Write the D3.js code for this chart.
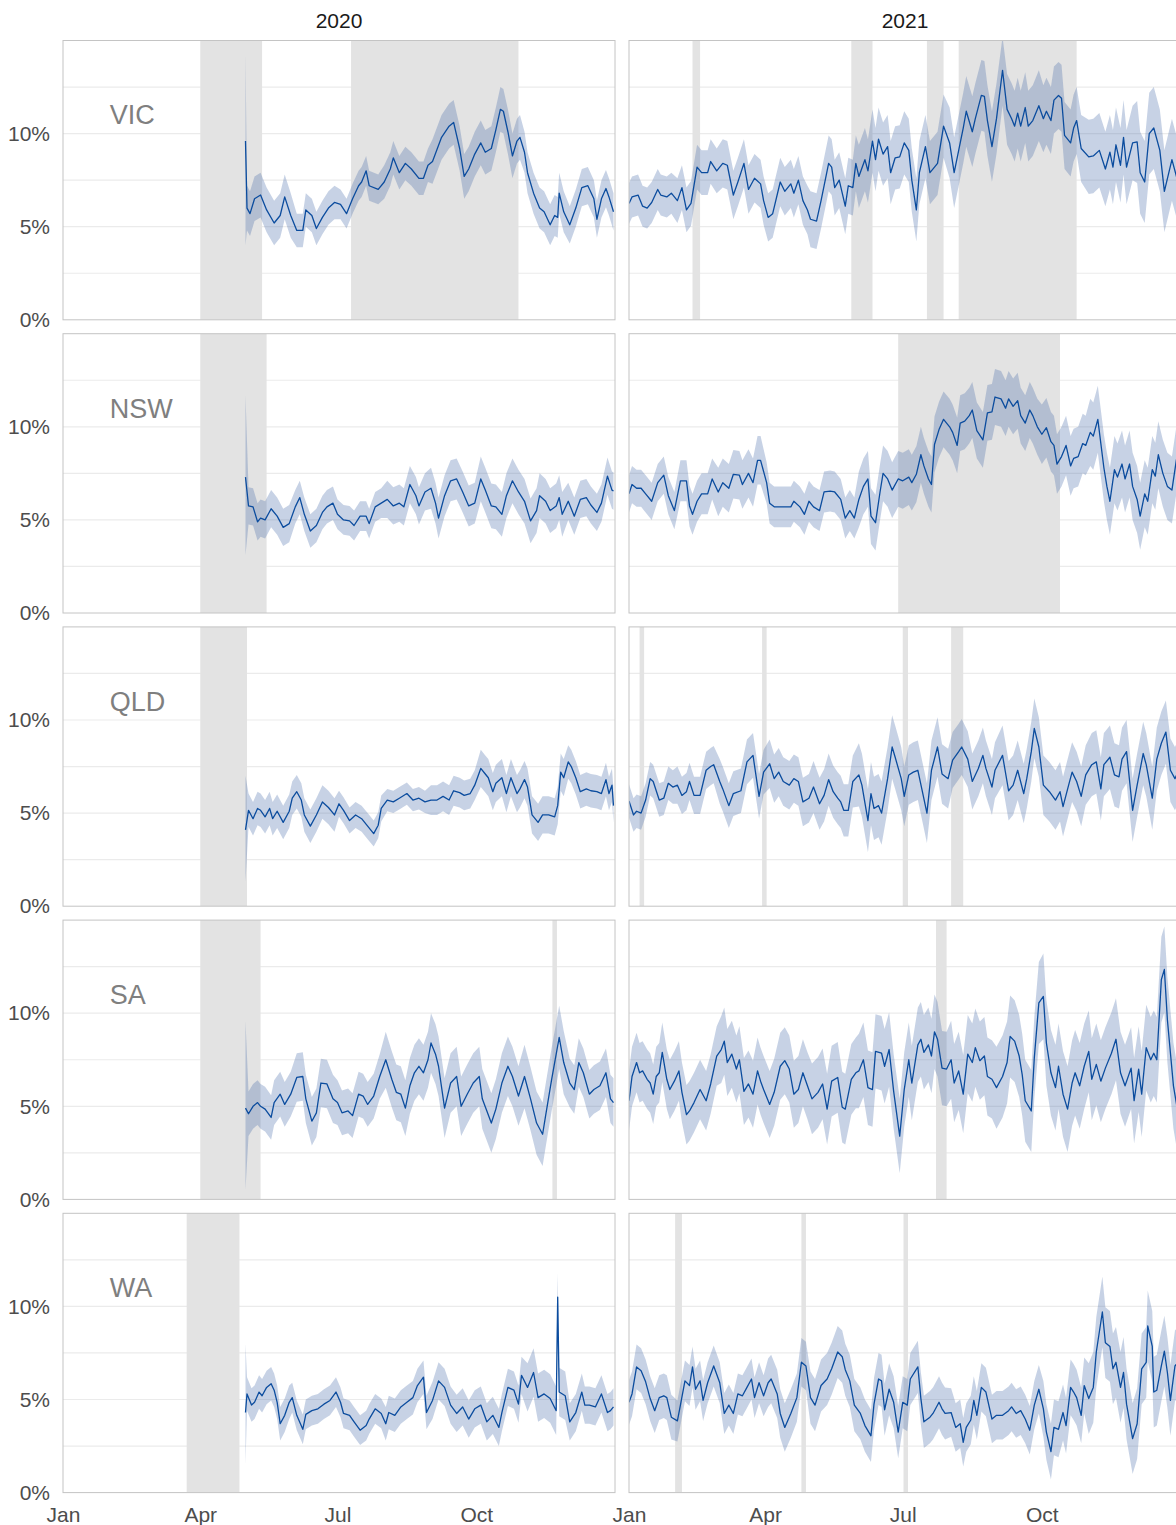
<!DOCTYPE html>
<html>
<head>
<meta charset="utf-8">
<script src="https://cdn.jsdelivr.net/npm/d3@7"></script>
<style>
  body { margin: 0; background: #fff; }
  svg { display: block; font-family: "Liberation Sans", Arial, sans-serif; }
</style>
</head>
<body>
<svg id="chart" width="1176" height="1525"></svg>
<script>
// facets
const states = ["VIC", "NSW", "QLD", "SA", "WA"];
const years = [2020, 2021];
const yLabels = [0, 5, 10];
const gridVals = [2.5, 5, 7.5, 10, 12.5];
const monthTicks = [0, 3, 6, 9]; // Jan Apr Jul Oct

// series: [day of year (0 = 1 Jan), share in %]
const vic2020 = [[121,9.6],[122,6.0],[124,5.7],[127,6.5],[131,6.7],[135,5.9],[140,5.2],[144,5.6],[147,6.6],[151,5.6],[155,4.8],[159,4.8],[161,5.9],[165,5.6],[168,4.9],[172,5.5],[176,6.0],[180,6.3],[184,6.2],[188,5.7],[192,6.5],[196,7.2],[198,7.4],[201,8.0],[203,7.2],[209,7.0],[213,7.4],[217,8.1],[219,8.7],[223,7.9],[227,8.4],[231,8.1],[236,7.6],[239,7.6],[242,8.3],[245,8.5],[251,9.8],[256,10.4],[259,10.6],[263,9.2],[266,7.7],[269,8.1],[273,8.9],[277,9.5],[280,9.0],[284,9.2],[287,10.2],[290,11.3],[292,11.2],[295,10.1],[298,8.8],[301,9.6],[303,9.8],[306,9.0],[308,7.9],[312,6.8],[316,6.0],[319,5.8],[323,5.1],[326,5.6],[328,5.5],[329,6.8],[332,5.8],[336,5.1],[340,6.0],[344,7.1],[348,7.2],[352,6.5],[354,5.4],[357,6.5],[360,7.05],[362,6.6],[365,5.8]];
const vic2021 = [[0,6.25],[2,6.6],[6,6.7],[9,6.1],[12,6.0],[15,6.3],[19,7.0],[21,6.7],[25,6.6],[28,6.8],[32,6.4],[35,7.1],[38,5.9],[41,6.25],[45,8.2],[48,7.9],[52,7.9],[54,8.5],[58,8.0],[62,8.4],[65,8.3],[69,6.7],[72,7.4],[76,8.4],[79,7.0],[83,7.6],[87,7.3],[89,6.4],[92,5.5],[95,5.7],[100,7.4],[103,6.9],[107,7.3],[109,6.8],[112,7.5],[115,6.4],[118,5.9],[120,5.4],[124,5.3],[127,6.4],[132,8.4],[134,8.2],[136,7.1],[139,7.5],[143,6.1],[145,7.2],[148,7.1],[150,8.4],[152,7.7],[156,8.6],[158,8.0],[161,9.6],[163,8.6],[165,9.7],[168,8.9],[171,9.3],[173,7.9],[176,8.7],[179,8.75],[182,9.5],[185,9.1],[187,7.5],[190,5.9],[192,7.9],[196,9.3],[199,7.9],[202,8.2],[204,8.4],[208,10.4],[212,9.5],[215,7.9],[218,9.1],[221,10.3],[223,11.2],[227,10.1],[229,10.8],[233,12.05],[235,12.0],[237,10.7],[240,9.3],[243,10.8],[247,13.4],[250,11.3],[253,10.8],[255,10.4],[257,11.1],[259,10.4],[262,11.4],[264,10.4],[267,10.7],[271,11.5],[274,10.8],[276,11.2],[279,10.7],[281,11.8],[284,12.05],[286,11.9],[288,9.9],[292,9.5],[294,10.3],[296,10.7],[299,9.2],[304,8.75],[307,8.8],[311,9.1],[315,8.1],[318,9.0],[320,8.2],[322,9.4],[325,8.3],[327,9.8],[329,8.2],[333,9.5],[336,9.55],[338,7.9],[341,7.4],[344,10.0],[347,10.3],[351,9.1],[354,6.9],[359,8.6],[363,7.4]];
const nsw2020 = [[121,7.3],[123,5.75],[126,5.7],[129,4.9],[131,5.1],[134,5.0],[138,5.6],[142,5.2],[146,4.6],[150,4.8],[154,5.7],[157,6.2],[160,5.3],[164,4.4],[168,4.7],[172,5.4],[175,5.7],[179,5.9],[182,5.3],[186,5.0],[190,4.95],[193,4.7],[197,5.2],[201,5.2],[203,4.8],[207,5.7],[211,5.9],[215,6.1],[219,5.75],[223,5.9],[226,5.7],[230,6.9],[234,6.3],[236,5.75],[240,6.5],[244,6.7],[247,5.9],[249,5.1],[253,6.3],[257,7.1],[261,7.2],[265,6.5],[269,5.75],[273,5.9],[277,7.2],[280,6.6],[284,5.75],[287,5.7],[291,5.3],[294,6.3],[298,7.1],[302,6.5],[306,6.0],[310,4.95],[314,5.5],[316,6.3],[320,6.0],[323,5.5],[327,5.75],[329,6.2],[331,5.3],[335,6.0],[339,5.2],[343,6.1],[347,6.2],[350,5.8],[354,5.4],[357,5.9],[361,7.35],[364,6.6],[365,6.55]];
const nsw2021 = [[0,6.4],[2,6.9],[5,6.7],[8,6.7],[11,6.4],[15,6.0],[19,7.0],[23,7.4],[26,6.3],[30,5.5],[34,7.1],[38,7.1],[40,5.75],[42,5.3],[45,6.0],[48,6.4],[52,6.4],[55,7.2],[59,6.5],[62,7.0],[66,6.7],[69,7.45],[73,7.4],[75,6.9],[79,7.5],[82,7.0],[85,8.2],[87,8.2],[91,7.0],[93,5.9],[96,5.7],[100,5.7],[103,5.7],[107,5.7],[109,6.0],[113,5.7],[116,5.3],[119,6.0],[122,5.7],[126,5.5],[129,6.5],[133,6.55],[136,6.5],[140,6.1],[143,5.1],[146,5.5],[149,5.1],[152,6.1],[155,6.8],[158,7.2],[160,5.2],[163,4.85],[166,6.5],[168,7.5],[171,7.2],[174,6.6],[178,7.2],[181,7.1],[185,7.3],[187,7.0],[190,7.45],[193,8.5],[195,7.9],[198,7.2],[200,6.9],[202,9.05],[205,9.85],[208,10.4],[212,10.0],[214,9.7],[217,9.0],[219,10.2],[222,10.3],[225,10.6],[227,10.9],[230,9.8],[234,9.3],[237,10.75],[240,10.8],[242,11.6],[246,11.5],[249,11.0],[251,11.5],[254,11.1],[257,11.4],[259,10.6],[262,10.2],[265,10.9],[267,10.6],[270,10.0],[273,9.6],[276,9.95],[279,9.2],[281,9.0],[283,8.0],[286,8.4],[289,9.0],[292,7.9],[294,8.3],[297,8.4],[300,9.1],[302,9.0],[305,9.7],[307,9.5],[310,10.4],[314,7.8],[316,6.8],[318,6.0],[321,7.7],[323,7.3],[326,8.0],[328,7.2],[331,8.0],[333,6.8],[336,6.1],[338,5.2],[341,6.4],[343,6.0],[346,7.7],[348,7.35],[350,8.5],[353,7.5],[356,6.8],[359,6.6],[362,8.25]];
const qld2020 = [[121,4.1],[123,5.15],[126,4.7],[129,5.25],[131,5.15],[134,4.8],[137,5.25],[139,4.7],[142,5.1],[146,4.5],[150,5.1],[152,5.8],[155,6.15],[158,5.7],[160,4.9],[164,4.3],[168,4.9],[172,5.6],[176,5.3],[180,4.9],[183,5.5],[186,5.15],[190,4.6],[194,4.9],[198,4.7],[202,4.3],[206,3.9],[209,4.35],[211,5.25],[215,5.7],[219,5.6],[223,5.8],[228,6.05],[232,5.7],[236,5.8],[240,5.6],[244,5.7],[248,5.7],[252,5.9],[256,5.7],[259,6.2],[263,6.1],[266,5.95],[270,6.05],[273,6.5],[277,7.4],[280,7.1],[282,6.9],[285,6.15],[287,6.6],[291,6.9],[294,6.05],[297,6.9],[301,6.05],[303,6.3],[306,6.8],[308,6.4],[311,4.9],[315,4.5],[318,4.9],[322,4.9],[326,4.8],[328,5.4],[330,7.2],[332,6.9],[335,7.75],[337,7.5],[340,6.9],[343,6.15],[347,6.3],[350,6.2],[354,6.15],[357,6.05],[360,6.8],[362,6.05],[364,6.5],[365,5.4]];
const qld2021 = [[0,5.65],[3,4.9],[5,5.1],[8,5.0],[11,5.7],[14,6.85],[16,6.7],[20,5.7],[23,5.8],[26,6.6],[29,6.4],[32,6.5],[35,5.95],[38,6.15],[40,6.7],[43,5.95],[47,5.95],[51,7.3],[54,7.5],[56,7.6],[60,6.7],[62,6.3],[66,5.4],[69,6.05],[74,6.2],[78,7.75],[82,8.1],[86,5.9],[89,7.2],[93,7.65],[96,6.85],[99,7.2],[102,6.7],[106,6.5],[109,6.85],[112,6.7],[115,5.6],[119,5.8],[122,6.4],[126,5.5],[129,5.95],[132,6.8],[135,6.15],[138,5.8],[140,5.6],[142,5.15],[145,5.15],[148,6.7],[152,7.05],[154,6.5],[158,4.6],[160,6.05],[162,5.25],[165,5.4],[167,5.0],[171,6.85],[174,8.55],[176,8.0],[180,6.85],[182,5.9],[185,7.05],[188,7.2],[191,7.3],[194,6.15],[197,5.0],[200,7.3],[204,8.55],[207,7.1],[211,6.85],[214,7.85],[218,8.3],[220,8.55],[224,7.9],[227,6.7],[231,7.4],[234,8.1],[236,7.4],[240,6.4],[242,7.3],[247,8.1],[251,6.2],[254,6.5],[257,7.3],[261,6.05],[263,6.85],[266,8.3],[268,9.55],[271,8.55],[274,6.5],[278,6.15],[282,5.7],[285,6.15],[287,5.35],[291,6.6],[293,7.2],[296,6.7],[299,5.9],[302,7.05],[306,7.6],[309,7.75],[312,6.3],[314,7.6],[318,8.0],[321,7.05],[324,6.95],[326,7.9],[329,8.3],[333,5.15],[336,6.5],[340,8.2],[342,7.6],[346,5.8],[349,7.9],[352,8.75],[355,9.35],[358,7.3],[361,6.85],[363,7.2]];
const sa2020 = [[121,4.9],[123,4.6],[126,5.0],[129,5.2],[131,5.0],[134,4.85],[138,4.4],[140,5.2],[144,5.65],[147,5.1],[151,5.65],[155,6.55],[159,6.6],[161,5.4],[165,4.2],[168,4.65],[171,6.25],[175,6.2],[179,5.4],[182,5.2],[185,4.65],[189,4.75],[192,4.5],[196,5.65],[199,5.55],[202,5.1],[206,5.55],[210,6.6],[214,7.5],[218,6.45],[221,5.75],[224,5.65],[227,4.9],[230,6.1],[233,6.8],[236,7.15],[239,6.8],[242,7.5],[244,8.4],[247,7.8],[249,7.15],[253,4.9],[257,6.25],[261,6.6],[264,5.0],[268,5.65],[272,6.25],[276,6.6],[278,5.4],[284,4.1],[287,4.85],[291,6.25],[295,7.15],[298,6.6],[302,5.55],[306,6.6],[310,5.4],[314,4.1],[318,3.5],[320,4.5],[324,6.45],[329,8.7],[332,7.35],[336,6.25],[339,5.9],[342,7.35],[345,6.8],[349,5.65],[352,5.9],[356,6.1],[360,6.8],[363,5.4],[365,5.2]];
const sa2021 = [[0,5.3],[2,6.6],[5,7.35],[7,6.8],[9,6.9],[12,6.45],[14,6.25],[16,5.65],[18,6.6],[20,6.8],[22,7.9],[25,6.45],[27,5.9],[30,6.35],[33,6.9],[35,5.75],[38,4.55],[40,4.75],[43,5.2],[47,5.9],[51,5.3],[54,6.2],[58,7.7],[61,8.05],[63,8.5],[65,7.35],[68,7.8],[71,7.0],[73,7.5],[76,5.8],[79,6.2],[82,5.65],[85,6.9],[87,6.35],[89,5.9],[93,5.1],[96,5.75],[100,7.15],[103,7.45],[106,7.0],[109,5.65],[112,5.9],[115,6.8],[118,6.1],[121,5.4],[125,5.75],[128,6.2],[131,4.85],[134,6.35],[138,6.55],[141,4.95],[143,4.85],[147,6.45],[150,6.8],[152,6.9],[155,7.5],[158,6.0],[161,5.9],[163,7.95],[167,7.85],[169,7.15],[172,8.05],[175,5.8],[179,3.4],[182,5.9],[185,7.5],[187,6.25],[191,8.3],[193,8.6],[195,7.9],[198,8.3],[200,7.7],[202,9.0],[204,8.6],[207,7.05],[210,7.0],[213,7.5],[215,6.25],[218,6.9],[221,5.65],[224,7.8],[227,7.35],[229,8.15],[232,7.45],[235,7.7],[237,6.6],[240,6.45],[243,6.0],[247,6.6],[250,7.35],[252,8.75],[255,8.5],[258,7.7],[260,6.7],[262,5.3],[266,4.75],[268,7.6],[271,10.55],[274,10.9],[276,8.4],[279,6.8],[282,6.0],[284,7.15],[287,5.65],[290,4.85],[293,6.25],[295,6.8],[298,6.1],[301,7.15],[304,7.95],[306,6.45],[309,7.25],[312,6.35],[315,7.05],[319,7.85],[322,8.6],[325,6.8],[328,6.1],[332,7.05],[334,5.3],[337,7.0],[339,5.65],[342,8.15],[345,7.5],[347,7.85],[349,7.5],[352,11.8],[354,12.35],[356,9.65],[360,6.1],[363,4.65]];
const wa2020 = [[121,4.3],[122,5.3],[125,4.7],[127,4.85],[130,5.4],[132,5.2],[135,5.65],[138,5.85],[140,5.5],[142,4.85],[144,3.7],[147,4.15],[150,4.85],[152,5.1],[155,4.15],[159,3.4],[161,4.2],[165,4.4],[169,4.5],[173,4.75],[177,4.95],[181,5.4],[184,4.85],[186,4.25],[190,4.15],[193,3.8],[197,3.35],[201,3.6],[203,3.95],[207,4.5],[211,4.25],[214,3.7],[216,4.3],[220,4.15],[224,4.6],[228,4.85],[232,5.1],[235,5.75],[239,6.2],[241,4.3],[245,4.95],[249,6.0],[253,5.65],[257,4.7],[261,4.25],[265,4.6],[269,3.95],[273,4.5],[277,4.7],[281,3.8],[285,4.15],[289,3.5],[291,4.3],[295,5.65],[299,5.5],[302,4.75],[304,6.3],[308,5.65],[312,6.45],[315,5.1],[319,5.3],[323,5.05],[327,4.4],[328,10.5],[329,5.4],[333,5.2],[336,3.8],[340,4.3],[344,5.4],[346,4.7],[349,4.7],[353,4.6],[357,5.3],[361,4.3],[363,4.4],[365,4.6]];
const wa2021 = [[0,4.85],[2,5.3],[5,6.75],[8,6.55],[11,5.95],[14,5.05],[17,4.4],[20,5.1],[23,5.2],[25,5.1],[28,4.05],[32,3.85],[34,4.7],[37,6.0],[40,5.75],[42,6.75],[44,5.55],[47,6.0],[49,4.95],[52,5.9],[56,6.8],[60,5.9],[63,4.25],[66,4.7],[69,4.25],[72,5.3],[75,5.2],[78,5.65],[81,6.1],[83,5.1],[86,5.9],[89,5.2],[92,5.9],[94,6.1],[98,5.3],[100,4.25],[103,3.5],[107,4.25],[111,5.1],[114,7.0],[117,6.8],[120,5.1],[123,4.7],[127,5.75],[131,6.1],[134,6.65],[138,7.55],[141,7.3],[143,6.6],[146,6.0],[149,4.7],[153,4.25],[156,3.6],[160,3.05],[162,4.75],[165,6.1],[167,6.0],[169,4.45],[172,5.55],[175,4.85],[178,3.25],[181,4.85],[184,4.7],[186,6.1],[191,6.75],[193,5.05],[195,3.8],[199,4.05],[201,4.25],[205,4.85],[207,4.5],[209,4.25],[213,4.3],[216,3.5],[219,3.7],[221,2.7],[223,3.5],[226,3.9],[228,4.95],[230,4.15],[233,5.65],[236,5.4],[240,3.95],[243,4.15],[247,4.15],[251,4.4],[253,4.6],[256,4.25],[259,4.4],[262,3.95],[265,3.35],[268,4.7],[271,5.55],[274,4.5],[276,3.25],[279,2.2],[281,3.5],[284,3.4],[287,4.3],[289,3.6],[292,5.65],[294,5.4],[296,5.1],[299,4.15],[301,5.75],[304,5.05],[307,5.65],[309,7.55],[313,9.7],[315,8.05],[318,7.85],[320,6.65],[322,7.0],[325,5.65],[327,6.45],[329,4.75],[333,2.9],[336,3.7],[339,6.65],[342,7.0],[343,8.95],[346,7.85],[347,5.4],[349,5.5],[352,6.8],[354,7.6],[356,6.45],[358,4.95],[361,6.8],[363,7.0]];

// half-width of the uncertainty band, by month (Jan..Dec)
const vicBand2020 = [null,null,null,null,1.2,0.9,0.8,0.9,1.2,1.2,1.1,1.0];
const vicBand2021 = [1.1,1.2,1.3,1.3,1.5,1.7,1.7,1.9,1.9,1.8,2.0,2.2];
const nswBand2020 = [null,null,null,null,1.0,0.9,0.8,1.0,1.1,1.2,1.2,1.0];
const nswBand2021 = [1.0,1.1,1.3,1.1,1.1,1.5,1.5,1.5,1.5,1.6,1.8,1.8];
const qldBand2020 = [null,null,null,null,0.9,0.9,0.7,0.6,0.8,1.0,1.0,0.9];
const qldBand2021 = [0.9,1.0,1.2,1.3,1.4,1.7,1.6,1.5,1.6,1.6,1.7,1.7];
const saBand2020 = [null,null,null,null,1.2,1.3,1.2,1.5,1.6,1.6,1.7,1.3];
const saBand2021 = [1.6,1.6,1.8,1.8,1.9,2.0,2.0,2.1,2.2,2.3,2.2,2.3];
const waBand2020 = [null,null,null,null,0.9,0.8,0.8,0.9,1.0,1.0,1.3,1.0];
const waBand2021 = [1.2,1.1,1.1,1.3,1.4,1.4,1.4,1.3,1.3,1.5,1.9,1.9];
// band on the first day of 2020 (VIC, NSW, QLD, SA, WA)
const openLo2020 = [4.0, 3.1, 1.3, 0.5, 1.5];
const openHi2020 = [14.3, 11.7, 7.0, 9.6, 8.0];

// lockdowns, [first day, last day] of year
const vicLock2020 = [[91,132],[191,302]];
const vicLock2021 = [[42,47],[147,161],[197,208],[218,296]];
const nswLock2020 = [[91,135]];
const nswLock2021 = [[178,285]];
const qldLock2020 = [[91,122]];
const qldLock2021 = [[7,10],[88,91],[181,184.5],[213,221]];
const saLock2020 = [[91,131],[324.5,327.5]];
const saLock2021 = [[203,210]];
const waLock2020 = [[82,117]];
const waLock2021 = [[30.5,35],[114,117],[181.5,184.5]];

const rows = [
  { data: [vic2020, vic2021], band: [vicBand2020, vicBand2021], lock: [vicLock2020, vicLock2021] },
  { data: [nsw2020, nsw2021], band: [nswBand2020, nswBand2021], lock: [nswLock2020, nswLock2021] },
  { data: [qld2020, qld2021], band: [qldBand2020, qldBand2021], lock: [qldLock2020, qldLock2021] },
  { data: [sa2020, sa2021], band: [saBand2020, saBand2021], lock: [saLock2020, saLock2021] },
  { data: [wa2020, wa2021], band: [waBand2020, waBand2021], lock: [waLock2020, waLock2021] },
];

const svg = d3.select("#chart");
const W = 552, H = 279.3;
const colX = [63, 629];
const rowTop = i => 40.5 + i * 293.2;
const dayDate = (yr, d) => new Date(Date.UTC(yr, 0, 1) + d * 864e5);

years.forEach((yr, c) => {
  svg.append("text")
    .attr("x", colX[c] + W / 2).attr("y", 28)
    .attr("text-anchor", "middle")
    .attr("font-size", 21).attr("fill", "#1a1a1a")
    .text(yr);
});

states.forEach((st, r) => {
  const top = rowTop(r);
  const y = d3.scaleLinear().domain([0, 15]).range([top + H, top]);

  years.forEach((yr, c) => {
    const x = d3.scaleUtc()
      .domain([new Date(Date.UTC(yr, 0, 1)), new Date(Date.UTC(yr + 1, 0, 1))])
      .range([colX[c], colX[c] + W]);
    const clipId = `clip-${r}-${c}`;
    svg.append("clipPath").attr("id", clipId)
      .append("rect").attr("x", colX[c]).attr("y", top).attr("width", W).attr("height", H);
    const g = svg.append("g").attr("clip-path", `url(#${clipId})`);

    // gridlines
    g.selectAll("line.grid").data(gridVals).join("line")
      .attr("class", "grid")
      .attr("x1", colX[c]).attr("x2", colX[c] + W)
      .attr("y1", d => y(d)).attr("y2", d => y(d))
      .attr("stroke", "#ebebeb").attr("stroke-width", 1.2);

    // lockdown periods
    g.selectAll("rect.lock").data(rows[r].lock[c]).join("rect")
      .attr("class", "lock")
      .attr("x", d => x(dayDate(yr, d[0])))
      .attr("width", d => x(dayDate(yr, d[1])) - x(dayDate(yr, d[0])))
      .attr("y", top).attr("height", H)
      .attr("fill", "#e3e3e3");

    const band = rows[r].band[c];
    const pts = rows[r].data[c].map(([d, v], i) => {
      const date = dayDate(yr, d);
      const hw = band[Math.min(11, date.getUTCMonth())];
      let lo = v - hw, hi = v + hw;
      if (yr === 2020 && i === 0) { lo = openLo2020[r]; hi = openHi2020[r]; }
      return { date, v, lo: Math.max(0, lo), hi: Math.min(15.2, hi) };
    });

    g.append("path").datum(pts)
      .attr("fill", "rgb(68,105,168)").attr("fill-opacity", 0.3)
      .attr("d", d3.area().x(d => x(d.date)).y0(d => y(d.lo)).y1(d => y(d.hi)));

    g.append("path").datum(pts)
      .attr("fill", "none").attr("stroke", "#0b4c9e").attr("stroke-width", 1.3)
      .attr("stroke-linejoin", "round")
      .attr("d", d3.line().x(d => x(d.date)).y(d => y(d.v)));

    // panel border
    svg.append("rect")
      .attr("x", colX[c]).attr("y", top).attr("width", W).attr("height", H)
      .attr("fill", "none").attr("stroke", "#c4c4c4").attr("stroke-width", 1);

    if (c === 0) {
      const ax = svg.append("g").attr("transform", `translate(${colX[0]},0)`)
        .call(d3.axisLeft(y).tickValues(yLabels).tickFormat(d => d + "%").tickSize(0).tickPadding(13));
      ax.select(".domain").remove();
      ax.selectAll("text").attr("font-size", 21).attr("fill", "#4d4d4d")
        .attr("font-family", "Liberation Sans, Arial, sans-serif");

      svg.append("text")
        .attr("x", x(dayDate(yr, 31))).attr("y", y(11)).attr("dy", "0.35em")
        .attr("font-size", 27).attr("fill", "#7f7f7f")
        .text(st);
    }

    if (r === states.length - 1) {
      const bx = svg.append("g").attr("transform", `translate(0,${top + H})`)
        .call(d3.axisBottom(x)
          .tickValues(monthTicks.map(m => new Date(Date.UTC(yr, m, 1))))
          .tickFormat(d3.utcFormat("%b")).tickSize(0).tickPadding(14));
      bx.select(".domain").remove();
      bx.selectAll("text").attr("font-size", 21).attr("fill", "#4d4d4d")
        .attr("font-family", "Liberation Sans, Arial, sans-serif");
    }
  });
});
</script>
</body>
</html>
